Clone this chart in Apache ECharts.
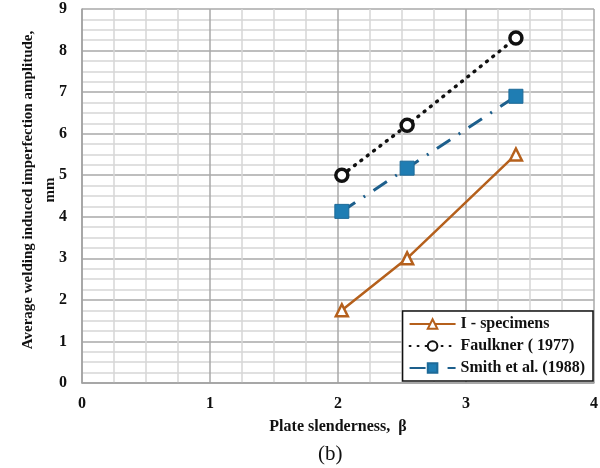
<!DOCTYPE html>
<html>
<head>
<meta charset="utf-8">
<script src="https://cdn.jsdelivr.net/npm/echarts@6/dist/echarts.min.js"></script>
<style>
  html, body {margin: 0; padding: 0; background: #fff;}
  #chart {width: 600px; height: 468px;}
</style>
</head>
<body>
<div id="chart"></div>
<script>
const serif = '"Liberation Serif", "DejaVu Serif", serif';

const slenderness = [2.03, 2.54, 3.39];
const iSpecimens = [1.75, 3.0, 5.5];
const faulkner = [5.0, 6.2, 8.3];
const smith = [4.13, 5.17, 6.9];
const seriesNames = ['I - specimens', 'Faulkner ( 1977)', 'Smith et al. (1988)'];

const pairs = (xs, ys) => xs.map((x, i) => [x, ys[i]]);

const chart = echarts.init(document.getElementById('chart'));

chart.setOption({
  animation: false,
  backgroundColor: '#fff',
  grid: {left: 82, right: 6, top: 9, bottom: 85, outerBoundsMode: 'none'},
  legend: {
    orient: 'vertical',
    right: 7,
    bottom: 87,
    padding: [5, 8, 5, 6],
    itemGap: 6,
    itemWidth: 46,
    itemHeight: 12,
    backgroundColor: '#fff',
    borderColor: '#111',
    borderWidth: 1.5,
    borderRadius: 0,
    textStyle: {fontFamily: serif, fontWeight: 'bold', fontSize: 16, color: '#111'},
    data: seriesNames
  },
  xAxis: {
    type: 'value',
    min: 0, max: 4, interval: 1,
    name: 'Plate slenderness,  β',
    nameLocation: 'middle',
    nameGap: 36,
    nameTextStyle: {fontFamily: serif, fontWeight: 'bold', fontSize: 16, color: '#111'},
    axisLine: {lineStyle: {color: '#a0a0a0', width: 1.5}},
    axisTick: {show: false},
    axisLabel: {fontFamily: serif, fontWeight: 'bold', fontSize: 16, color: '#111', margin: 13},
    splitLine: {lineStyle: {color: '#a8a8a8', width: 1.5}},
    minorTick: {show: false, splitNumber: 4},
    minorSplitLine: {show: true, lineStyle: {color: '#d6d6d6', width: 1.5}}
  },
  yAxis: {
    type: 'value',
    min: 0, max: 9, interval: 1,
    name: 'Average welding induced imperfection amplitude,\nmm',
    nameLocation: 'middle',
    nameMoveOverlap: false,
    nameGap: 21,
    nameTextStyle: {fontFamily: serif, fontWeight: 'bold', fontSize: 15, color: '#111', lineHeight: 22, padding: [0, 0, 0, 12]},
    axisLine: {show: true, lineStyle: {color: '#a0a0a0', width: 1.5}},
    axisTick: {show: false},
    axisLabel: {fontFamily: serif, fontWeight: 'bold', fontSize: 16, color: '#111', margin: 15},
    splitLine: {lineStyle: {color: '#a8a8a8', width: 1.5}},
    minorTick: {show: false, splitNumber: 4},
    minorSplitLine: {show: true, lineStyle: {color: '#d6d6d6', width: 1.5}}
  },
  graphic: [{
    type: 'text',
    left: 318,
    top: 444,
    style: {text: '(b)', font: '21px ' + serif, fill: '#111'}
  }],
  series: [{
    name: seriesNames[0],
    type: 'line',
    data: pairs(slenderness, iSpecimens),
    symbol: 'triangle',
    symbolSize: 12,
    lineStyle: {color: '#b5601c', width: 2.5},
    itemStyle: {color: '#fff', borderColor: '#b5601c', borderWidth: 2.5}
  }, {
    name: seriesNames[1],
    type: 'line',
    data: pairs(slenderness, faulkner),
    symbol: 'circle',
    symbolSize: 12,
    lineStyle: {color: '#111', width: 3.5, type: [1, 7], cap: 'round'},
    itemStyle: {color: '#fff', borderColor: '#111', borderWidth: 3.5}
  }, {
    name: seriesNames[2],
    type: 'line',
    data: pairs(slenderness, smith),
    symbol: 'rect',
    symbolSize: 14,
    lineStyle: {color: '#1d5f8c', width: 3, type: [16, 10, 2, 10]},
    itemStyle: {color: '#1f7db3', borderColor: '#1d6a98', borderWidth: 1}
  }]
});
</script>
</body>
</html>
